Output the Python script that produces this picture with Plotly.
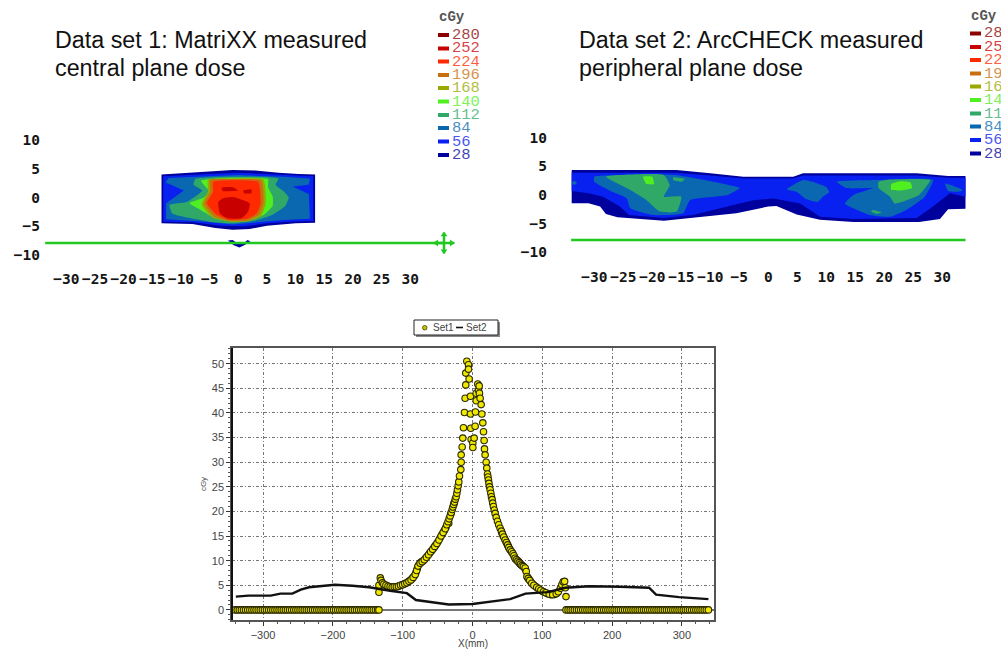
import plotly.graph_objects as go

W, H = 1001, 649

# ---------- data ----------
LEVELS = ["280", "252", "224", "196", "168", "140", "112", "84", "56", "28"]
LEVEL_COLORS = ["#8b0000", "#c80000", "#ff2a00", "#c87010", "#9aa800",
                "#50f020", "#2fa868", "#0a68b0", "#0820f0", "#00009c"]
MAP_TICKS_X = [-30, -25, -20, -15, -10, -5, 0, 5, 10, 15, 20, 25, 30]
MAP_TICKS_Y = [-10, -5, 0, 5, 10]

# Data set 1 iso-dose regions (cm)
D1_28 = [(-13.4,4.0),(-10,4.2),(-5,4.5),(-1,4.8),(3,4.7),(7,4.3),(10.5,4.1),(13.4,4.0),(13.4,-4.4),(10,-4.5),(5,-4.9),(2,-5.5),(-1,-5.6),(-4,-5.3),(-8,-4.6),(-13.4,-4.5)]
D1_56 = [(-13.1,3.7),(-10,3.9),(-5,4.1),(0,4.3),(4,4.1),(8,3.9),(13.1,3.7),(13.1,-4.1),(9,-4.2),(5,-4.5),(1,-5),(-3,-4.9),(-8,-4.3),(-13.1,-4.2)]
D1_84 = [(-12.2,3.4),(-8,3.6),(0,3.9),(8,3.6),(12.5,3.3),(12.3,2.2),(9.5,1.9),(12.3,0.6),(12.5,-3.7),(8,-3.9),(4,-4.3),(-1,-4.7),(-6,-4.2),(-12.6,-3.8),(-12.6,-1),(-10.5,0.4),(-9.5,1.2),(-12.7,2.6)]
D1_112 = [(-7.5,3.2),(-2,3.6),(3,3.6),(7,3.3),(6.5,2.2),(8,1),(8.8,0),(8.2,-1.5),(6,-3),(3,-4),(-1,-4.5),(-5,-4.2),(-9,-3.5),(-11.5,-2.8),(-12,-1.3),(-9,-0.8),(-7,0.5),(-6.3,1.2),(-7.8,2.2)]
D1_140 = [(-6.5,2.9),(-2,3.4),(3,3.4),(5.2,3.2),(5.2,1.8),(6,0.2),(6,-1.5),(4.5,-3),(2,-3.9),(-1,-4.2),(-4,-3.6),(-6.5,-2.2),(-8.5,-1),(-6,0),(-5,1)]
D1_168 = [(-5.3,3.1),(-0.9,3.3),(4.4,3.1),(4.8,-1),(4,-3.2),(1.7,-4.15),(-1.5,-4.2),(-4.5,-3.5),(-6.4,-1.2),(-5.3,1)]
D1_196 = [(-4.9,3),(-0.9,3.2),(4,3),(4.4,-1),(3.6,-3),(1.6,-4),(-1.5,-4.1),(-4.2,-3.3),(-6,-1.1),(-4.9,1)]
D1_224 = [(-4.4,2.7),(-0.9,3),(3.5,2.7),(3.9,-1),(3.2,-2.8),(1.5,-3.7),(-1.5,-3.9),(-3.8,-3),(-5.5,-1),(-4.4,1)]
D1_252 = [(-3.5,-0.8),(-2.6,-0.1),(-0.9,0.1),(2,-1),(1.7,-2.5),(0.6,-3.6),(-2,-3.6),(-3.2,-2.8)]
D1_252B = [(-2.9,1.7),(-1,1.8),(0,1.2),(-1.5,1.1),(-2.7,1.1)]
D1_252C = [(0.9,1.2),(2.3,1.4),(2.3,0.8),(1,0.7)]
D1_BELOW = [(-1.8,-7.5),(-1,-7.4),(-0.2,-7.9),(1,-7.9),(1.6,-7.4),(2.1,-7.6),(1.2,-8.2),(0.2,-8.7),(-0.8,-8.3)]
D1_LINE_X = [-33.7, 35.9]
D1_LINE_Y = [-7.9, -7.9]

# Data set 2 iso-dose regions (cm)
D2_28 = [(-33.9,4.36),(-15.8,4.36),(-10,3.8),(-4.3,3.2),(4.3,3.2),(6,3.8),(25.6,3.8),(31,3.3),(34,3.3),(34,-2.4),(31,-2.5),(29.6,-4.2),(26,-4.7),(14.7,-4.7),(8.9,-4.3),(4.9,-3.4),(1.4,-1.9),(0,-2),(-5.5,-3.2),(-13,-4),(-18,-4.5),(-26,-3.9),(-28,-3.3),(-29,-2),(-31,-1.45),(-33.9,-1.45)]
D2_56 = [(-33.9,3.9),(-16,3.9),(-10,3.4),(-4.3,2.9),(4.3,2.9),(6,3.4),(25.6,3.4),(31,3),(34,3),(34,-0.3),(31.3,0.3),(28.4,-2),(25.6,-4),(14.7,-4.2),(8.9,-3.8),(5.5,-1.5),(0.9,-0.6),(-2.6,-0.9),(-8.3,-2.3),(-13,-3.5),(-18,-4),(-24,-3.5),(-25.6,-2),(-28.5,-0.3),(-31,0.3),(-33.9,0.7)]
D2_84A = [(-30,3.2),(-25,3.5),(-16,3.5),(-13,3),(-11,2.6),(-8,2),(-4.9,1.2),(-7,0),(-13.5,-0.9),(-14.7,-3.2),(-19.8,-3.5),(-23.8,-2.3),(-24.4,-0.6),(-27,0.6),(-30,2.3)]
D2_84B = [(3.2,1),(6,2.6),(8,2.2),(10,1.4),(10.5,0.5),(9.5,-0.2),(8.5,-1.2),(6.5,-0.7),(5,0.5)]
D2_84C = [(11.8,2.3),(19,2.6),(28.4,2.6),(27,-0.3),(23.8,-2.6),(21,-3.8),(17.5,-3.5),(13.2,-1.5),(14.7,0),(18,1.2),(13.5,1.2)]
D2_84D = [(30.5,2),(33.5,0.9),(33,0.6),(31,0.7)]
D2_84E = [(-33.6,2.5),(-33,2.2),(-33.3,1.8),(-33.9,1.9)]
D2_112A = [(-28,3.2),(-18,3.5),(-17,1.7),(-18,-0.3),(-15,-0.3),(-15.8,-2.9),(-18.7,-2.9),(-21,-0.9),(-24.4,1.2)]
D2_112B = [(-16.4,3.1),(-14.4,2.8),(-15,2.3),(-16.4,2.6)]
D2_112C = [(19,2.3),(21,2.7),(27.9,2.6),(26,0),(21.8,-1.5),(21,-0.3),(19,1.2)]
D2_112D = [(18,-2.6),(19.5,-3),(18.7,-3.3),(17.7,-2.9)]
D2_140A = [(-21.6,3.2),(-20,3.2),(-19.7,1.9),(-21,1.9)]
D2_140B = [(21.2,1.9),(22.7,2.4),(24.5,2.2),(24.8,1.2),(23,0.8),(21.2,0.9)]
D2_LINE_X = [-34, 34]
D2_LINE_Y = [-7.85, -7.85]

# Profile comparison: measured dose (cGy) against position (mm)
PROFILE_TICKS_X = [-300, -200, -100, 0, 100, 200, 300]
PROFILE_TICKS_Y = [0, 5, 10, 15, 20, 25, 30, 35, 40, 45, 50]

SET1_ZERO_LEFT_X = [-340,-337,-334,-331,-328,-325,-322,-319,-316,-313,-310,-307,-304,-301,-298,-295,-292,-289,-286,-283,-280,-277,-274,-271,-268,-265,-262,-259,-256,-253,-250,-247,-244,-241,-238,-235,-232,-229,-226,-223,-220,-217,-214,-211,-208,-205,-202,-199,-196,-193,-190,-187,-184,-181,-178,-175,-172,-169,-166,-163,-160,-157,-154,-151,-148,-145,-142,-139,-136,-134]
SET1_ZERO_RIGHT_X = [134,137,140,143,146,149,152,155,158,161,164,167,170,173,176,179,182,185,188,191,194,197,200,203,206,209,212,215,218,221,224,227,230,233,236,239,242,245,248,251,254,257,260,263,266,269,272,275,278,281,284,287,290,293,296,299,302,305,308,311,314,317,320,323,326,329,332,335,338]

SET1_FLANK_X = [-125.5,-122.5,-119.5,-116.5,-113.5,-110.5,-107.5,-104.5,-101.5,-98.5,-95.5,-92.5,-89.5,-86.5,-83.5,-81,-79,-76.5,-73.5,-70.5,-67.5,-64.5,-61.5,-58.5,-55.5,-52.5,-49.5,-46.5,-43.5,-40.5,-38,-34,-31,-26.5,42,44,46,47.8,49.5,51,53,55,57,60,62,64,66,68,70,72,74,76,79,81,83.5,86.5,90,93.5,96.5,100,103,107.5,112.5,117.5,121.5]
SET1_FLANK_Y = [5.1,4.9,4.75,4.6,4.65,4.7,4.75,4.9,5.05,5.2,5.4,5.65,5.95,6.35,6.9,7.6,8.4,9.2,9.7,10,10.45,10.95,11.5,12,12.6,13.2,13.85,14.6,15.35,16.1,16.8,17.6,19.5,21.6,15.7,15,14.5,14,13.5,13,12.4,12,11.6,10.8,10.3,10.1,9.8,9.4,9.1,8.9,8.6,8.2,6.6,6.2,5.7,5.2,4.8,4.4,4.1,3.8,3.6,3.3,3.1,3.15,3.5]

SET1_X = [-134,-134,-132,-131,-129,-127,-124,-121,-118,-115,-112,-109,-106,-103,-100,-97,-94,-91,-88,-85,-82,-80,-78,-75,-72,-69,-66,-63,-60,-57,-54,-51,-48,-45,-42,-39,-36.8,-35,-33.5,-32,-30.5,-29,-28,-27,-25.8,-24.6,-23.4,-22.4,-21.5,-20.5,-19.6,-18.6,-16.7,-16.2,-16.2,-14.8,-13.9,-12.9,-11.5,-10.5,-9.6,-9.6,-8.1,-5.7,-5.7,-4.8,-2.9,-2.9,-2.4,-1.9,0.5,0.5,2.4,3.8,4.3,5.3,5.3,7.6,8.6,9.6,10,11,12.4,13.4,14.8,15.8,16.7,17.2,18.1,19.6,20.5,21.5,22.2,22.9,23.6,24.4,25.3,26.3,27.2,28.2,29,30,31.2,32.5,34,35.8,37.6,39.6,41.4,43,44.8,46.8,48.6,50.4,52,54,56,58,59.5,61,63,65,67,69,71,73,75.5,77,78,80,82,85,88,92,95,98,101.7,105,110,115,120,123,126,128,130,132,133,134]
SET1_Y = [3.6,5,6.5,6,5.5,5.2,5,4.8,4.7,4.6,4.7,4.7,4.8,5,5.1,5.3,5.5,5.8,6.1,6.6,7.2,8,8.9,9.5,9.8,10.2,10.7,11.2,11.8,12.3,12.9,13.5,14.2,15,15.7,16.5,17.3,17.9,18.5,19.1,19.8,20.4,20.9,21.4,21.9,22.5,23,23.7,24.4,25.2,26,27.2,28.5,30,31.5,33.1,34.9,37,40.1,43,45.7,48.1,50.5,49.8,48.9,46.9,43.4,39.8,36.9,34.6,33.9,33,34.9,37.3,40.2,44,42.5,45.9,44.6,45.5,44,43,41.7,39.8,38,36.2,34.4,32.7,31.5,30,28.8,27.6,27,26.4,25.7,25,24.4,23.7,23,22.4,21.7,21,20.3,19.6,18.8,18,17.3,16.6,16,15.4,14.8,14.2,13.7,13.2,12.7,12.2,11.8,11.4,11,10.5,10.2,9.9,9.6,9.3,9,8.8,8.5,7.8,6.8,6.4,6,5.4,5,4.6,4.3,4,3.7,3.5,3.2,3.1,3.3,3.7,4.4,5.1,5.7,5.8,4.5,2.7]

SET2_X = [-339,-321,-289,-275,-258,-246,-234,-217,-197,-172,-148,-118,-94,-81,-59,-34,0,25,54,76,108,133,167,212,253,263,296,338]
SET2_Y = [2.7,2.9,2.9,3.3,3.3,4.1,4.6,4.8,5.1,4.9,4.6,3.9,3.4,2,1.6,1.1,1.2,1.6,2.2,3.3,3.6,4.5,4.8,4.7,4.5,3.1,2.6,2.2]

# ---------- layout helpers ----------
def fx(px):
    return px / W

def fy(py):
    return 1 - py / H

fig = go.Figure()

def region(points, color, xa, ya, smooth=True):
    line = dict(width=0, color=color)
    if smooth:
        line.update(shape="spline", smoothing=0.45)
    fig.add_trace(go.Scatter(
        x=[p[0] for p in points] + [points[0][0]],
        y=[p[1] for p in points] + [points[0][1]],
        mode="lines", fill="toself", fillcolor=color, line=line, hoverinfo="skip",
        showlegend=False, xaxis=xa, yaxis=ya))

C = dict(zip(LEVELS, LEVEL_COLORS))
for pts, lev in [(D1_28,"28"),(D1_56,"56"),(D1_84,"84"),(D1_112,"112"),(D1_140,"140"),
                 (D1_168,"168"),(D1_196,"196"),(D1_224,"224"),(D1_252,"252"),
                 (D1_252B,"252"),(D1_252C,"252"),(D1_BELOW,"28")]:
    region(pts, C[lev], "x", "y", smooth=lev not in ("28", "56", "84"))
fig.add_trace(go.Scatter(x=D1_LINE_X, y=D1_LINE_Y, mode="lines",
                         line=dict(color="#22c822", width=2.5), hoverinfo="skip",
                         showlegend=False, xaxis="x", yaxis="y"))
for dx, dy, sym in [(0, 0, "cross-thin-open"), (-1.3, 0, "triangle-left"), (1.3, 0, "triangle-right"),
                    (0, 1.4, "triangle-up"), (0, -1.4, "triangle-down")]:
    fig.add_trace(go.Scatter(x=[D1_LINE_X[1] + dx], y=[D1_LINE_Y[1] + dy], mode="markers",
                             marker=dict(symbol=sym, size=15 if dx == dy == 0 else 6, color="#22c822",
                                         line=dict(color="#22c822", width=2.5 if dx == dy == 0 else 0)),
                             hoverinfo="skip", showlegend=False, xaxis="x", yaxis="y"))

for pts, lev in [(D2_28,"28"),(D2_56,"56"),(D2_84A,"84"),(D2_84B,"84"),(D2_84C,"84"),(D2_84D,"84"),(D2_84E,"84"),
                 (D2_112A,"112"),(D2_112B,"112"),(D2_112C,"112"),(D2_112D,"112"),(D2_140A,"140"),(D2_140B,"140")]:
    region(pts, C[lev], "x2", "y2", smooth=lev not in ("28", "56"))
fig.add_trace(go.Scatter(x=D2_LINE_X, y=D2_LINE_Y, mode="lines",
                         line=dict(color="#22c822", width=2.5), hoverinfo="skip",
                         showlegend=False, xaxis="x2", yaxis="y2"))

# profile traces: Set1 markers, Set2 line
fig.add_trace(go.Scatter(
    x=SET1_ZERO_LEFT_X + SET1_ZERO_RIGHT_X + SET1_FLANK_X + SET1_X,
    y=[0] * (len(SET1_ZERO_LEFT_X) + len(SET1_ZERO_RIGHT_X)) + SET1_FLANK_Y + SET1_Y,
    mode="markers", name="Set1", showlegend=False,
    marker=dict(size=6.5, color="#f0e800", line=dict(color="#2a2a00", width=1.1)),
    xaxis="x3", yaxis="y3"))
fig.add_trace(go.Scatter(x=SET2_X, y=SET2_Y, mode="lines", name="Set2", showlegend=False,
                         line=dict(color="#111111", width=2.4), xaxis="x3", yaxis="y3"))

map_tick_font = dict(family="DejaVu Sans Mono", size=14.5, color="#151515", weight="bold")

def map_axes(x_left, x_right, x0, ux, y_top, y_bot, y0, uy, ticks_anchor):
    xa = dict(domain=[fx(x_left), fx(x_right)],
              range=[(x_left - x0) / ux, (x_right - x0) / ux],
              tickmode="array", tickvals=MAP_TICKS_X, tickangle=0,
              ticks="", showgrid=False, zeroline=False, showline=False,
              tickfont=map_tick_font, anchor=ticks_anchor)
    ya = dict(domain=[fy(y_bot), fy(y_top)],
              range=[(y0 - y_bot) / uy, (y0 - y_top) / uy],
              tickmode="array", tickvals=MAP_TICKS_Y,
              ticks="", showgrid=False, zeroline=False, showline=False,
              tickfont=map_tick_font)
    return xa, ya

xa1, ya1 = map_axes(41, 460, 238.3, 5.73, 128, 268, 197.5, 5.75, "y")
xa2, ya2 = map_axes(548, 985, 768.3, 5.8, 126, 266, 195, 5.73, "y2")
ya1["anchor"] = "x"
ya2["anchor"] = "x2"

title_font = dict(family="Liberation Sans", size=23.3, color="#111111")
annotations = []
for tx, line1, line2 in [(53, "Data set 1: MatriXX measured", "central plane dose"),
                         (577, "Data set 2: ArcCHECK measured", "peripheral plane dose")]:
    for py, txt in [(40, line1), (68, line2)]:
        annotations.append(dict(x=fx(tx), y=fy(py), xref="paper", yref="paper", xanchor="left",
                                yanchor="middle", showarrow=False, text=txt, font=title_font))

shapes = []
LEGEND_ROWS = [35, 48.5, 61.5, 75, 88, 101.5, 115, 128, 141.5, 155]
for sx, dy in [(438, 0), (970, -1.5)]:
    annotations.append(dict(x=fx(sx - 1), y=fy(17 + dy), xref="paper", yref="paper", xanchor="left", yanchor="middle",
                            showarrow=False, text="cGy",
                            font=dict(family="Liberation Mono", size=14, color="#555555", weight="bold")))
    for lev, col, py in zip(LEVELS, LEVEL_COLORS, LEGEND_ROWS):
        shapes.append(dict(type="rect", xref="paper", yref="paper", x0=fx(sx), x1=fx(sx + 11),
                           y0=fy(py + dy + 2), y1=fy(py + dy - 2), fillcolor=col, line=dict(width=0)))
        annotations.append(dict(x=fx(sx + 12), y=fy(py + dy), xref="paper", yref="paper", xanchor="left",
                                yanchor="middle", showarrow=False, text=lev, opacity=0.75,
                                font=dict(family="Liberation Mono", size=15.5, color=col)))

# Legend of the profile chart
shapes += [
    dict(type="rect", xref="paper", yref="paper", x0=fx(416), x1=fx(500), y0=fy(337), y1=fy(322),
         fillcolor="#888888", line=dict(width=0), layer="above"),
    dict(type="rect", xref="paper", yref="paper", x0=fx(414), x1=fx(498), y0=fy(335), y1=fy(320),
         fillcolor="white", line=dict(color="#222222", width=1), layer="above"),
    dict(type="circle", xref="paper", yref="paper", x0=fx(422.5), x1=fx(427), y0=fy(330), y1=fy(325.5),
         fillcolor="#c8c000", line=dict(color="#444400", width=0.8), layer="above"),
    dict(type="line", xref="paper", yref="paper", x0=fx(456), x1=fx(463), y0=fy(327.5), y1=fy(327.5),
         line=dict(color="#111111", width=1.6), layer="above"),
    # heavy left spine of the frame
    dict(type="line", xref="paper", yref="paper", x0=fx(232), x1=fx(232), y0=fy(348), y1=fy(620),
         line=dict(color="#111111", width=2), layer="above"),
]
for tx, txt in [(431, "Set1"), (464, "Set2")]:
    annotations.append(dict(x=fx(tx), y=fy(327.5), xref="paper", yref="paper", xanchor="left", yanchor="middle",
                            showarrow=False, text=txt,
                            font=dict(family="Liberation Sans", size=10, color="#444444")))

grid = dict(showgrid=True, gridcolor="#777777", griddash="3px,2px,1px,2px", gridwidth=1)
prof_font = dict(family="Liberation Sans", size=11, color="#444444")

fig.update_layout(
    width=W, height=H, margin=dict(l=0, r=0, t=0, b=0),
    paper_bgcolor="white", plot_bgcolor="white", showlegend=False,
    xaxis=xa1, yaxis=ya1, xaxis2=xa2, yaxis2=ya2,
    xaxis3=dict(domain=[fx(232), fx(714)], range=[-344.5, 346], anchor="y3",
                tickmode="array", tickvals=PROFILE_TICKS_X, ticks="outside", ticklen=4, tickcolor="#333",
                tickfont=prof_font, zeroline=False,
                showline=True, linecolor="#555555", linewidth=1.5, mirror=True,
                minor=dict(dtick=20, ticks="outside", ticklen=2, tickcolor="#555", showgrid=False),
                title=dict(text="X(mm)", standoff=1, font=dict(family="Liberation Sans", size=10, color="#444444")),
                **grid),
    yaxis3=dict(domain=[fy(620), fy(348)], range=[-2.05, 53.2], anchor="x3",
                tickmode="array", tickvals=PROFILE_TICKS_Y, ticks="outside", ticklen=4, tickcolor="#333",
                tickfont=prof_font,
                zeroline=True, zerolinecolor="#777777", zerolinewidth=1.5,
                showline=True, linecolor="#555555", linewidth=1.5, mirror=True,
                minor=dict(dtick=1, ticks="outside", ticklen=2, tickcolor="#555", showgrid=False),
                title=dict(text="cGy", standoff=4, font=dict(family="Liberation Sans", size=8, color="#444444")),
                **grid),
    annotations=annotations, shapes=shapes,
)

fig.write_html("out.html", config=dict(displayModeBar=False),
               post_script="document.body.style.margin='0';document.body.style.overflow='hidden';")
